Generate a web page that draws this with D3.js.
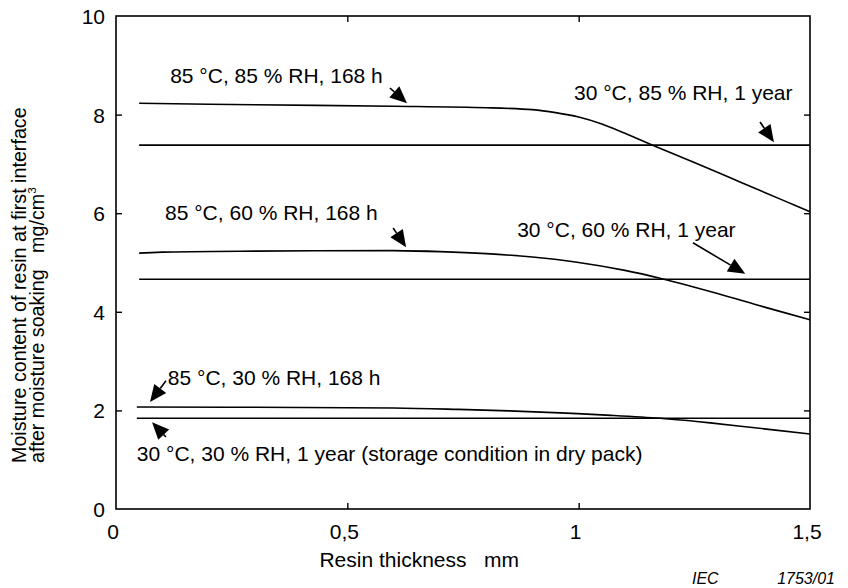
<!DOCTYPE html>
<html>
<head>
<meta charset="utf-8">
<script src="https://cdn.jsdelivr.net/npm/d3@7/dist/d3.min.js"></script>
<style>
  body { margin: 0; background: #fff; }
  svg { font-family: "Liberation Sans", Arial, sans-serif; }
  text { white-space: pre; }
</style>
</head>
<body>
<div id="chart"></div>
<script>
// Resin thickness (mm) and moisture content (mg/cm3)
let xTicks = [0, 0.5, 1, 1.5];
let yTicks = [0, 2, 4, 6, 8, 10];

let hot85 = [[0.05, 8.23], [0.3, 8.2], [0.6, 8.17], [0.8, 8.14], [0.9, 8.1], [0.95, 8.04],
             [1.0, 7.95], [1.05, 7.81], [1.1, 7.62], [1.165, 7.36], [1.25, 7.03], [1.35, 6.63],
             [1.45, 6.23], [1.5, 6.03]];
let cold85 = [[0.05, 7.38], [1.5, 7.38]];
let hot60 = [[0.05, 5.19], [0.1, 5.21], [0.3, 5.23], [0.6, 5.24], [0.7, 5.22], [0.8, 5.18],
             [0.9, 5.11], [1.0, 5.0], [1.1, 4.84], [1.18, 4.67], [1.3, 4.37], [1.4, 4.1], [1.5, 3.84]];
let cold60 = [[0.05, 4.66], [1.5, 4.66]];
let hot30 = [[0.045, 2.07], [0.4, 2.06], [0.6, 2.05], [0.74, 2.02], [0.85, 1.99], [0.96, 1.95],
             [1.07, 1.9], [1.176, 1.84], [1.26, 1.77], [1.35, 1.68], [1.5, 1.52]];
let cold30 = [[0.045, 1.84], [1.5, 1.84]];

// label text, text anchor point, arrow tail, arrow tip (all in data units)
let notes = [
  {text: "85 °C, 85 % RH, 168 h", at: [0.117, 8.64], from: [0.592, 8.54], to: [0.629, 8.23]},
  {text: "30 °C, 85 % RH, 1 year", at: [0.99, 8.30], from: [1.392, 7.85], to: [1.422, 7.44]},
  {text: "85 °C, 60 % RH, 168 h", at: [0.106, 5.86], from: [0.599, 5.70], to: [0.627, 5.31]},
  {text: "30 °C, 60 % RH, 1 year", at: [0.867, 5.52], from: [1.247, 5.40], to: [1.36, 4.77]},
  {text: "85 °C, 30 % RH, 168 h", at: [0.112, 2.52], from: [0.108, 2.60], to: [0.0735, 2.17]},
  {text: "30 °C, 30 % RH, 1 year (storage condition in dry pack)", at: [0.045, 0.97], from: [0.108, 1.46], to: [0.078, 1.76]}
];

const W = 848, H = 588;
const pLeft = 116, pRight = 810, pTop = 16, pBottom = 509;
const fs = 21;

let svg = d3.select("#chart").append("svg")
    .attr("width", W)
    .attr("height", H);

let x = d3.scaleLinear().domain([0, 1.5]).range([pLeft, pRight]);
let y = d3.scaleLinear().domain([0, 10]).range([pBottom, pTop]);

// frame
svg.append("rect")
   .attr("x", pLeft).attr("y", pTop)
   .attr("width", pRight - pLeft).attr("height", pBottom - pTop)
   .attr("fill", "none").attr("stroke", "#000").attr("stroke-width", 1.6);

// inward ticks on all four sides
let innerY = yTicks.filter(d => d > 0 && d < 10);
let innerX = xTicks.filter(d => d > 0 && d < 1.5);
svg.append("g").attr("transform", `translate(${pLeft},0)`)
   .call(d3.axisRight(y).tickValues(innerY).tickSize(6).tickFormat(""))
   .call(g => g.select(".domain").remove());
svg.append("g").attr("transform", `translate(${pRight},0)`)
   .call(d3.axisLeft(y).tickValues(innerY).tickSize(6).tickFormat(""))
   .call(g => g.select(".domain").remove());
svg.append("g").attr("transform", `translate(0,${pBottom})`)
   .call(d3.axisTop(x).tickValues(innerX).tickSize(6).tickFormat(""))
   .call(g => g.select(".domain").remove());
svg.append("g").attr("transform", `translate(0,${pTop})`)
   .call(d3.axisBottom(x).tickValues(innerX).tickSize(6).tickFormat(""))
   .call(g => g.select(".domain").remove());
svg.selectAll(".tick line").attr("stroke-width", 1.4);

// tick labels
svg.selectAll(".ylab").data(yTicks).enter().append("text")
   .attr("x", pLeft - 11)
   .attr("y", d => y(d) + 8)
   .attr("text-anchor", "end")
   .attr("font-size", fs)
   .text(d => d);
svg.selectAll(".xlab").data(xTicks).enter().append("text")
   .attr("x", d => x(d) - 3)
   .attr("y", pBottom + 30)
   .attr("text-anchor", "middle")
   .attr("font-size", fs)
   .text(d => String(d).replace(".", ","));

// axis titles
svg.append("text")
   .attr("x", 519).attr("y", 567)
   .attr("text-anchor", "end")
   .attr("font-size", fs)
   .text("Resin thickness   mm");

const yfs = 19.7;
let yt = svg.append("g").attr("transform", "translate(0,463) rotate(-90)");
yt.append("text").attr("x", 0).attr("y", 26).attr("font-size", yfs)
  .text("Moisture content of resin at first interface");
let yt2 = yt.append("text").attr("x", 0).attr("y", 44).attr("font-size", yfs)
  .text("after moisture soaking   mg/cm");
yt2.append("tspan").attr("font-size", yfs * 0.6).attr("dy", -8).text("3");

svg.append("text")
   .attr("x", 692).attr("y", 584)
   .attr("font-size", 16)
   .attr("font-style", "italic")
   .text("IEC");
svg.append("text")
   .attr("x", 835).attr("y", 584)
   .attr("text-anchor", "end")
   .attr("font-size", 16)
   .attr("font-style", "italic")
   .text("1753/01");

// curves
let line = d3.line().x(d => x(d[0])).y(d => y(d[1])).curve(d3.curveCatmullRom);
[hot85, cold85, hot60, cold60, hot30, cold30].forEach(s => {
  svg.append("path")
     .attr("d", line(s))
     .attr("fill", "none")
     .attr("stroke", "#000")
     .attr("stroke-width", 1.6);
});

// annotations with arrows
notes.forEach(n => {
  svg.append("text")
     .attr("x", x(n.at[0])).attr("y", y(n.at[1]))
     .attr("font-size", fs)
     .text(n.text);
  let x0 = x(n.from[0]), y0 = y(n.from[1]);
  let x1 = x(n.to[0]), y1 = y(n.to[1]);
  let ang = Math.atan2(y1 - y0, x1 - x0);
  let len = 17, half = 7.5;
  let bx = x1 - len * Math.cos(ang), by = y1 - len * Math.sin(ang);
  svg.append("line")
     .attr("x1", x0).attr("y1", y0).attr("x2", bx).attr("y2", by)
     .attr("stroke", "#000").attr("stroke-width", 1.6);
  let pts = [
    [x1, y1],
    [bx + half * Math.sin(ang), by - half * Math.cos(ang)],
    [bx - half * Math.sin(ang), by + half * Math.cos(ang)]
  ];
  svg.append("polygon")
     .attr("points", pts.map(p => p.join(",")).join(" "))
     .attr("fill", "#000");
});
</script>
</body>
</html>
